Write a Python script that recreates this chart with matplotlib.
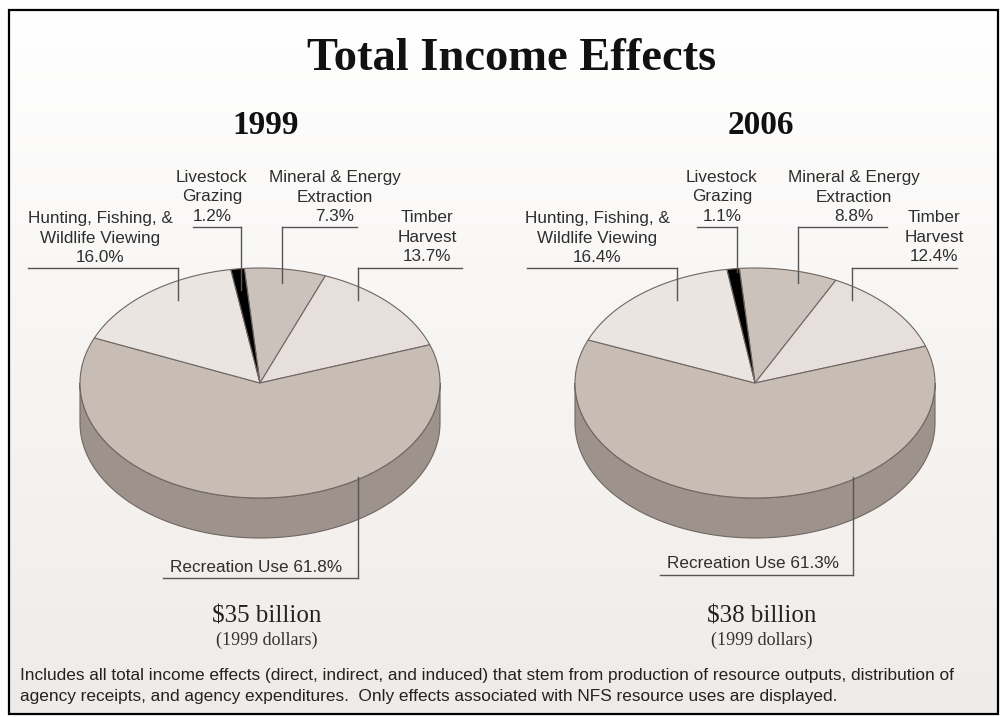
import numpy as np
import matplotlib
matplotlib.use("Agg")
import matplotlib.pyplot as plt
from matplotlib.patches import Polygon, Rectangle

# data
categories = ["Mineral & Energy\nExtraction", "Timber\nHarvest", "Recreation Use",
              "Hunting, Fishing, &\nWildlife Viewing", "Livestock\nGrazing"]
share_1999 = [7.3, 13.7, 61.8, 16.0, 1.2]
share_2006 = [8.8, 12.4, 61.3, 16.4, 1.1]
years = ["1999", "2006"]
totals = ["$35 billion", "$38 billion"]

# style
top_colors = ["#cbc2bc", "#e6dfdc", "#c8bdb5", "#ebe5e2", "#000000"]
side_colors = ["#9d928b", "#b3aaa5", "#9e938c", "#b6aeaa", "#000000"]
edge = "#6f6762"
label_col = "#2e2e2e"
line_col = "#555555"

W, H = 1002, 717
fig = plt.figure(figsize=(W / 100, H / 100), dpi=100)
ax = fig.add_axes([0, 0, 1, 1])
ax.set_xlim(0, W)
ax.set_ylim(H, 0)
ax.axis("off")

# background gradient
grad = np.linspace(0, 1, 256).reshape(-1, 1)
top_rgb = np.array([1.0, 1.0, 1.0])
bot_rgb = np.array([0xef, 0xeb, 0xe8]) / 255
img = top_rgb + (bot_rgb - top_rgb) * grad[..., None]
img = np.repeat(img, 2, axis=1)
ax.imshow(img, extent=[9, 998, 714, 10], aspect="auto", zorder=0)
ax.add_patch(Rectangle((9, 10), 989, 704, fill=False, ec="black", lw=1.6, zorder=10))


def pie3d(cx, cy, rx, ry, depth, values, start=95.0):
    bounds = [start]
    for v in values:
        bounds.append(bounds[-1] - v * 3.6)
    # sides (front half only)
    for i, v in enumerate(values):
        hi, lo = bounds[i], bounds[i + 1]
        for f0, f1 in [(-180, 0), (180, 360), (-540, -360)]:
            a, b = max(lo, f0), min(hi, f1)
            if b > a:
                t = np.radians(np.linspace(a, b, 120))
                xs = cx + rx * np.cos(t)
                ys = cy - ry * np.sin(t)
                pts = np.vstack([np.column_stack([xs, ys]),
                                 np.column_stack([xs[::-1], ys[::-1] + depth])])
                ax.add_patch(Polygon(pts, closed=True, fc=side_colors[i], ec=edge,
                                     lw=0.8, zorder=2))
    # top face
    for i, v in enumerate(values):
        t = np.radians(np.linspace(bounds[i], bounds[i + 1], 200))
        pts = np.column_stack([cx + rx * np.cos(t), cy - ry * np.sin(t)])
        pts = np.vstack([[cx, cy], pts])
        ax.add_patch(Polygon(pts, closed=True, fc=top_colors[i], ec=edge, lw=0.8, zorder=3))


# label layout: (text x, text y, underline x0, x1, underline y, leader x, leader end y)
layouts = [
    [(335, 197, 282, 357, 227, 282, 283),
     (427, 237, 358, 462, 268, 358, 300),
     (256, 567, 163, 358, 578, 358, 477),
     (100, 238, 28, 178, 268, 178, 300),
     (212, 197, 193, 241, 227, 241, 290)],
    [(854, 197, 798, 887, 227, 798, 283),
     (934, 237, 852, 957, 268, 852, 300),
     (753, 564, 660, 853, 575, 853, 477),
     (597, 238, 527, 677, 268, 677, 300),
     (722, 197, 697, 737, 227, 737, 272)],
]
centers = [260, 755]
series = [share_1999, share_2006]

ax.text(512, 59, "Total Income Effects", ha="center", va="center",
        family="Liberation Serif", weight="bold", fontsize=33.5, color="#111111")

for k in range(2):
    cx = centers[k]
    pie3d(cx, 383, 180, 115, 40, series[k])
    ax.text(cx + 6, 125, years[k], ha="center", va="center", family="Liberation Serif",
            weight="bold", fontsize=24, color="#111111")
    ax.text(cx + 7, 616, totals[k], ha="center", va="center", family="Liberation Serif",
            fontsize=18, color="#222222")
    ax.text(cx + 7, 640, "(1999 dollars)", ha="center", va="center",
            family="Liberation Serif", fontsize=13, color="#333333")
    for i, name in enumerate(categories):
        tx, ty, ux0, ux1, uy, lx, ly = layouts[k][i]
        if "\n" in name:
            s = f"{name}\n{series[k][i]:.1f}%"
        else:
            s = f"{name} {series[k][i]:.1f}%"
        ax.text(tx, ty, s, ha="center", va="center", family="Liberation Sans",
                fontsize=12.3, color=label_col, linespacing=1.38, zorder=6)
        ax.plot([ux0, ux1], [uy, uy], color=line_col, lw=1.0, zorder=5)
        ax.plot([lx, lx], [uy, ly], color=line_col, lw=1.0, zorder=5)

note = ("Includes all total income effects (direct, indirect, and induced) that stem from "
        "production of resource outputs, distribution of\n"
        "agency receipts, and agency expenditures.  Only effects associated with NFS "
        "resource uses are displayed.")
ax.text(20, 686, note, ha="left", va="center", family="Liberation Sans", fontsize=12.45,
        color="#222222", linespacing=1.55)

fig.savefig("out.png", dpi=100)
